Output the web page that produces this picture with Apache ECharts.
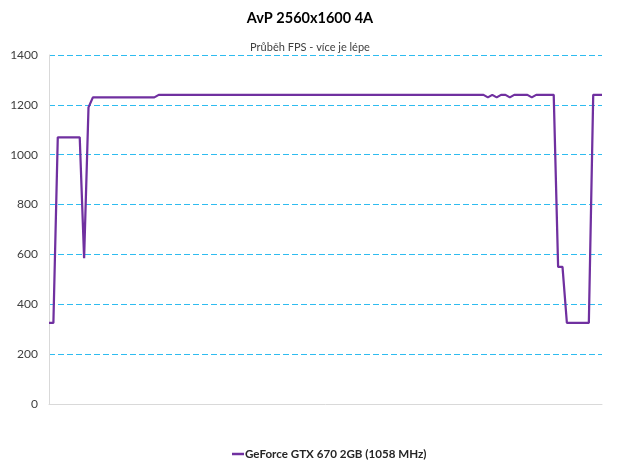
<!DOCTYPE html>
<html>
<head>
<meta charset="utf-8">
<script src="https://cdn.jsdelivr.net/npm/echarts@6/dist/echarts.min.js"></script>
<style>html,body{margin:0;padding:0;background:#fff}#c{width:620px;height:464px}</style>
</head>
<body>
<div id="c"></div>
<script>
var titleText = 'AvP 2560x1600 4A';
var subtitleText = 'Průběh FPS - více je lépe';
var seriesName = 'GeForce GTX 670 2GB (1058 MHz)';
var yTicks = [0, 200, 400, 600, 800, 1000, 1200, 1400];
var fps = [
  325, 325, 1070, 1070, 1070, 1070, 1070, 1070, 585, 1190,
  1230, 1230, 1230, 1230, 1230, 1230, 1230, 1230, 1230, 1230,
  1230, 1230, 1230, 1230, 1230, 1240, 1240, 1240, 1240, 1240,
  1240, 1240, 1240, 1240, 1240, 1240, 1240, 1240, 1240, 1240,
  1240, 1240, 1240, 1240, 1240, 1240, 1240, 1240, 1240, 1240,
  1240, 1240, 1240, 1240, 1240, 1240, 1240, 1240, 1240, 1240,
  1240, 1240, 1240, 1240, 1240, 1240, 1240, 1240, 1240, 1240,
  1240, 1240, 1240, 1240, 1240, 1240, 1240, 1240, 1240, 1240,
  1240, 1240, 1240, 1240, 1240, 1240, 1240, 1240, 1240, 1240,
  1240, 1240, 1240, 1240, 1240, 1240, 1240, 1240, 1240, 1240,
  1230, 1240, 1230, 1240, 1240, 1230, 1240, 1240, 1240, 1240,
  1230, 1240, 1240, 1240, 1240, 1240, 550, 550, 325, 325,
  325, 325, 325, 325, 1240, 1240, 1240
];
var categories = fps.map(function (v, i) { return String(i + 1); });

var chart = echarts.init(document.getElementById('c'), null, {renderer: 'canvas'});
chart.setOption({
  animation: false,
  backgroundColor: '#ffffff',
  title: [
    {text: titleText, left: 'center', top: 6,
     textStyle: {fontFamily: 'Lato', fontWeight: 'bold', fontSize: 14.5, color: '#000000'}},
    {text: subtitleText, left: 'center', top: 37,
     textStyle: {fontFamily: 'Lato', fontWeight: 'normal', fontSize: 11, color: '#404040'}}
  ],
  legend: {
    data: [{name: seriesName, icon: 'rect'}],
    left: 232, bottom: 4, padding: 0,
    itemWidth: 12, itemHeight: 2.5, itemGap: 0,
    textStyle: {fontFamily: 'Lato', fontWeight: 'bold', fontSize: 11.6, color: '#262626', padding: [0, 0, 0, -4]}
  },
  grid: {left: 49, right: 18, top: 55, bottom: 60, containLabel: false},
  xAxis: {
    type: 'category',
    data: categories,
    boundaryGap: false,
    axisLine: {lineStyle: {color: '#d9d9d9', width: 1}},
    axisTick: {show: false},
    axisLabel: {show: false},
    splitLine: {show: false}
  },
  yAxis: {
    type: 'value',
    min: yTicks[0], max: yTicks[yTicks.length - 1], interval: 200,
    axisLine: {show: true, lineStyle: {color: '#d9d9d9', width: 1}},
    axisTick: {show: false},
    axisLabel: {fontFamily: 'Lato', fontSize: 12, color: '#404040', margin: 11,
      formatter: function (v) { return String(v); }},
    splitLine: {lineStyle: {color: '#2ebcf0', type: [6, 3], width: 1}}
  },
  series: [{
    name: seriesName,
    type: 'line',
    data: fps,
    showSymbol: false,
    symbol: 'none',
    lineStyle: {color: '#7030a0', width: 2.25},
    itemStyle: {color: '#7030a0'}
  }]
});
</script>
</body>
</html>
